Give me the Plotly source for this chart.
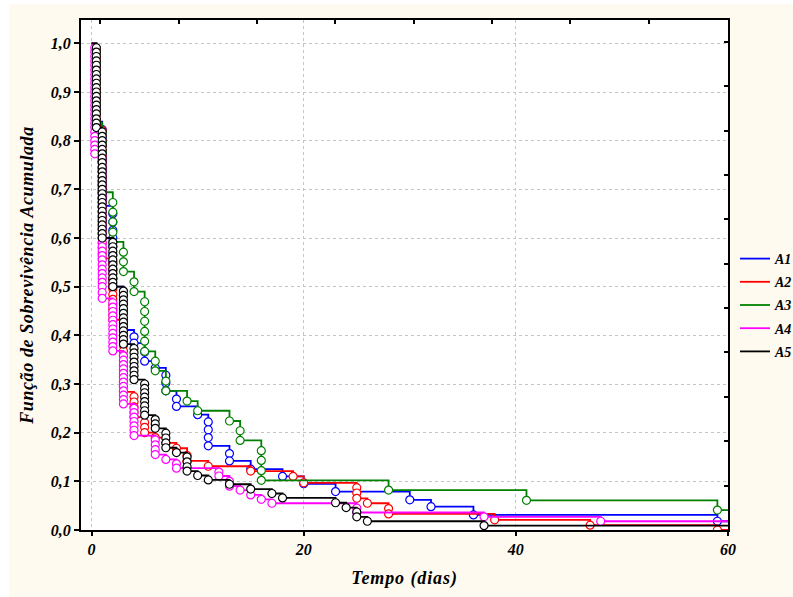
import plotly.graph_objects as go

# ---------------- data ----------------
x_ticks = [0, 20, 40, 60]
y_ticks = [0.0, 0.1, 0.2, 0.3, 0.4, 0.5, 0.6, 0.7, 0.8, 0.9, 1.0]
series_names = ["A1", "A2", "A3", "A4", "A5"]
series_colors = ["#0000FF", "#FF0000", "#008000", "#FF00FF", "#000000"]
t_end = 60

# A1 (blue): event times and survival after each event
a1_t = [0.45] * 10 + [1.0] * 11 + [2.0] * 10 + [3.0] * 5 + [4.0] * 2 + [5.0] * 2 + [6.0] + [7.0] * 3 + \
       [8.0] * 2 + [10.0] + [11.0] * 4 + [13.0] * 2 + [15.0, 18.0, 20.0, 23.0, 30.0, 32.0, 36.0, 59.0]
a1_s = [0.984, 0.968, 0.952, 0.935, 0.919, 0.903, 0.887, 0.871, 0.855, 0.839,
        0.823, 0.806, 0.790, 0.774, 0.758, 0.742, 0.726, 0.710, 0.694, 0.680, 0.666,
        0.650, 0.633, 0.616, 0.600, 0.583, 0.566, 0.550, 0.533, 0.516, 0.500,
        0.483, 0.466, 0.449, 0.432, 0.411,
        0.397, 0.384,
        0.366, 0.347,
        0.333,
        0.318, 0.302, 0.286,
        0.269, 0.254,
        0.237,
        0.222, 0.206, 0.190, 0.173,
        0.157, 0.142,
        0.125, 0.110, 0.095, 0.079, 0.062, 0.048, 0.031, 0.018]

# A2 (red)
a2_t = [0.45] * 16 + [1.0] * 26 + [2.0] * 12 + [3.0] * 14 + [4.0] * 5 + [5.0] * 3 + [6.0, 7.0, 8.0] + \
       [9.0] * 2 + [11.0, 15.0, 19.0, 20.0] + [25.0] * 3 + [26.0] + [28.0] * 2 + [38.0, 47.0, 59.0]
a2_s = [0.989, 0.979, 0.968, 0.958, 0.947, 0.937, 0.926, 0.916, 0.905, 0.895, 0.884, 0.874, 0.863, 0.853, 0.842, 0.832,
        0.821, 0.811, 0.800, 0.790, 0.779, 0.768, 0.758, 0.747, 0.737, 0.726, 0.716, 0.705, 0.695,
        0.684, 0.674, 0.663, 0.653, 0.642, 0.632, 0.621, 0.611, 0.600, 0.589, 0.579, 0.568, 0.558,
        0.547, 0.537, 0.526, 0.516, 0.505, 0.495, 0.484, 0.474, 0.463, 0.453, 0.442, 0.432,
        0.421, 0.411, 0.400, 0.389, 0.379, 0.368, 0.358, 0.347, 0.337, 0.326, 0.316, 0.305, 0.295, 0.284,
        0.274, 0.263, 0.253, 0.242, 0.232,
        0.221, 0.211, 0.200,
        0.190, 0.179, 0.168,
        0.153, 0.142,
        0.131, 0.121, 0.110, 0.097,
        0.087, 0.076, 0.065,
        0.055,
        0.044, 0.033,
        0.021, 0.010, 0.0]

# A3 (green)
a3_t = [0.45] * 8 + [1.0] * 7 + [2.0] * 5 + [3.0] * 3 + [4.0] * 2 + [5.0] * 6 + [6.0] * 2 + [7.0] * 2 + \
       [9.0, 10.0, 13.0] + [14.0] * 2 + [16.0] * 4 + [28.0, 41.0, 59.0]
a3_s = [0.980, 0.959, 0.939, 0.918, 0.898, 0.878, 0.857, 0.837,
        0.816, 0.796, 0.776, 0.755, 0.735, 0.714, 0.694,
        0.673, 0.653, 0.633, 0.612, 0.592,
        0.571, 0.551, 0.531,
        0.510, 0.490,
        0.469, 0.449, 0.429, 0.408, 0.388, 0.367,
        0.347, 0.327,
        0.306, 0.286,
        0.265, 0.245, 0.224,
        0.204, 0.184,
        0.163, 0.143, 0.122, 0.102,
        0.082, 0.061, 0.041]

# A4 (magenta)
a4_t = [0.3] * 25 + [1.0] * 32 + [2.0] * 12 + [3.0] * 12 + [4.0] * 7 + [6.0] * 4 + [7.0] + [8.0] * 2 + \
       [12.0] * 2 + [13.0] * 2 + [14.0, 15.0, 16.0, 17.0] + [25.0] * 2 + [37.0, 48.0]
a4_s = [0.991, 0.982, 0.973, 0.964, 0.955, 0.945, 0.936, 0.927, 0.918, 0.909, 0.900, 0.891, 0.882,
        0.873, 0.864, 0.855, 0.845, 0.836, 0.827, 0.818, 0.809, 0.800, 0.791, 0.782, 0.773,
        0.764, 0.755, 0.745, 0.736, 0.727, 0.718, 0.709, 0.700, 0.691, 0.682, 0.673, 0.664, 0.655,
        0.645, 0.636, 0.627, 0.618, 0.609, 0.600, 0.591, 0.582, 0.573, 0.564, 0.555, 0.545, 0.536,
        0.527, 0.518, 0.509, 0.500, 0.488, 0.476,
        0.467, 0.458, 0.449, 0.440, 0.431, 0.422, 0.413, 0.404, 0.395, 0.386, 0.377, 0.368,
        0.358, 0.349, 0.340, 0.331, 0.322, 0.313, 0.304, 0.295, 0.286, 0.277, 0.268, 0.259,
        0.250, 0.241, 0.232, 0.223, 0.214, 0.205, 0.194,
        0.185, 0.175, 0.165, 0.155,
        0.145,
        0.136, 0.127,
        0.119, 0.111,
        0.100, 0.090,
        0.082, 0.072, 0.063, 0.055,
        0.045, 0.036,
        0.027, 0.018]

# A5 (black)
a5_t = [0.45] * 19 + [1.0] * 25 + [2.0] * 11 + [3.0] * 13 + [4.0] * 8 + [5.0] * 8 + [6.0] * 3 + [7.0] * 4 + \
       [8.0] + [9.0] * 4 + [10.0, 11.0, 13.0, 15.0, 17.0, 18.0, 23.0, 24.0] + [25.0] * 2 + [26.0, 37.0]
a5_s = [0.991, 0.982, 0.973, 0.964, 0.955, 0.945, 0.936, 0.927, 0.918, 0.909, 0.900, 0.891, 0.882,
        0.873, 0.864, 0.855, 0.845, 0.836, 0.827,
        0.818, 0.809, 0.800, 0.791, 0.782, 0.773, 0.764, 0.755, 0.745, 0.736, 0.727, 0.718, 0.709,
        0.700, 0.691, 0.682, 0.673, 0.664, 0.655, 0.645, 0.636, 0.627, 0.618, 0.609, 0.600,
        0.591, 0.582, 0.573, 0.564, 0.555, 0.545, 0.536, 0.527, 0.518, 0.509, 0.500,
        0.491, 0.482, 0.473, 0.464, 0.455, 0.445, 0.436, 0.427, 0.418, 0.409, 0.400, 0.391, 0.382,
        0.373, 0.364, 0.355, 0.345, 0.336, 0.327, 0.318, 0.309,
        0.300, 0.291, 0.282, 0.273, 0.264, 0.255, 0.245, 0.236,
        0.227, 0.218, 0.209,
        0.199, 0.189, 0.179, 0.169,
        0.159,
        0.150, 0.140, 0.130, 0.121,
        0.112, 0.103, 0.094, 0.084, 0.075, 0.066, 0.056, 0.046,
        0.037, 0.027,
        0.018, 0.009]

all_t = [a1_t, a2_t, a3_t, a4_t, a5_t]
all_s = [a1_s, a2_s, a3_s, a4_s, a5_s]

x_title = "Tempo (dias)"
y_title = "Função de Sobrevivência Acumulada"

# ---------------- figure ----------------
FONT = "Liberation Serif, Times New Roman, serif"
W, H = 793, 597
ML, MR, MT, MB = 81, 65, 20, 67
PW, PH = W - ML - MR, H - MT - MB


def px_to_paper_x(px):
    return (px - ML) / PW


def py_to_paper_y(py):
    return (H - MB - py) / PH


fig = go.Figure()

for name, color, ts, ss in zip(series_names, series_colors, all_t, all_s):
    fig.add_trace(go.Scatter(
        x=[0] + ts + [t_end], y=[1.0] + ss + [ss[-1]],
        mode="lines", line=dict(color=color, width=1.8, shape="hv"),
        name=name, legendgroup=name, showlegend=True, hoverinfo="skip"))
    fig.add_trace(go.Scatter(
        x=ts, y=ss, mode="markers",
        marker=dict(symbol="circle", size=8, color="white",
                    line=dict(color=color, width=1.2)),
        name=name, legendgroup=name, showlegend=False, hoverinfo="skip"))

# empty trace to register the decorative top/right axes
fig.add_trace(go.Scatter(x=[], y=[], xaxis="x2", yaxis="y2", showlegend=False, hoverinfo="skip"))

tickfont = dict(family=FONT, size=16, color="black", weight="bold", style="italic")
titlefont = dict(family=FONT, size=18, color="black", weight="bold", style="italic")

y_range = [0, 1.048]
x_range = [-1, 60]

fig.update_layout(
    width=W, height=H,
    margin=dict(l=ML, r=MR, t=MT, b=MB, autoexpand=False),
    paper_bgcolor="#FFFAF0",
    plot_bgcolor="white",
    separators=", ",
    showlegend=True,
    legend=dict(
        x=px_to_paper_x(735), xanchor="left",
        y=py_to_paper_y(243), yanchor="top",
        font=dict(family=FONT, size=14, color="black", weight="bold", style="italic"),
        bgcolor="rgba(0,0,0,0)", borderwidth=0, itemwidth=30, tracegroupgap=2,
    ),
    xaxis=dict(
        range=x_range, tickvals=x_ticks, ticktext=[str(v) for v in x_ticks],
        ticks="outside", ticklen=4, tickwidth=1.5, tickcolor="black",
        showline=True, linewidth=2, linecolor="black",
        showgrid=True, gridcolor="#C4C4C4", griddash="dot", gridwidth=1,
        zeroline=False, tickfont=tickfont,
        title=dict(text='<span style="letter-spacing:0.9px">' + x_title + '</span>',
                   font=titlefont, standoff=14),
    ),
    yaxis=dict(
        range=y_range, tickvals=y_ticks, tickformat=".1f",
        ticks="outside", ticklen=5, tickwidth=1.5, tickcolor="black",
        showline=True, linewidth=2, linecolor="black",
        showgrid=True, gridcolor="#C4C4C4", griddash="dot", gridwidth=1,
        zeroline=False, tickfont=tickfont,
        title=dict(text='<span style="letter-spacing:0.6px">' + y_title + '</span>',
                   font=titlefont, standoff=12),
    ),
    xaxis2=dict(
        overlaying="x", side="top", range=x_range,
        tick0=0.82, dtick=7.387, ticks="inside", ticklen=4, tickwidth=1.5, tickcolor="black",
        showticklabels=False, showline=True, linewidth=2, linecolor="black",
        showgrid=False, zeroline=False,
    ),
    yaxis2=dict(
        overlaying="y", side="right", range=y_range,
        tick0=0, dtick=0.0912, ticks="inside", ticklen=4, tickwidth=1.5, tickcolor="black",
        showticklabels=False, showline=True, linewidth=2, linecolor="black",
        showgrid=False, zeroline=False,
    ),
    shapes=[
        dict(type="rect", xref="paper", yref="paper", layer="below",
             x0=px_to_paper_x(0), x1=px_to_paper_x(9), y0=py_to_paper_y(H), y1=py_to_paper_y(0),
             fillcolor="white", line=dict(width=0)),
        dict(type="rect", xref="paper", yref="paper", layer="below",
             x0=px_to_paper_x(0), x1=px_to_paper_x(W), y0=py_to_paper_y(4), y1=py_to_paper_y(0),
             fillcolor="white", line=dict(width=0)),
    ],
)

fig.write_html("out.html")
